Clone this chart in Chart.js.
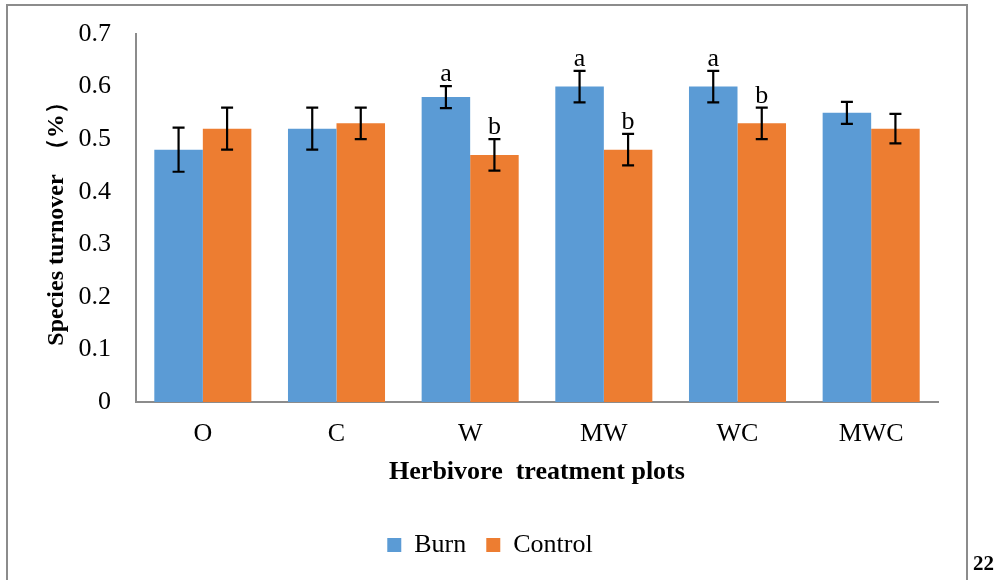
<!DOCTYPE html>
<html>
<head>
<meta charset="utf-8">
<title>Species turnover</title>
<script src="https://cdn.jsdelivr.net/npm/chart.js@4/dist/chart.umd.min.js"></script>
<style>
  html, body { margin: 0; padding: 0; background: #fff; }
  #wrap { width: 996px; height: 580px; }
</style>
</head>
<body>
<div id="wrap"><canvas id="myChart" width="996" height="580"></canvas></div>
<script>
// treatment plots and mean turnover per plot
var plots = ['O', 'C', 'W', 'MW', 'WC', 'MWC'];
var burn = [0.48, 0.52, 0.58, 0.60, 0.60, 0.55];
var control = [0.52, 0.53, 0.47, 0.48, 0.53, 0.52];
// standard errors
var burnErr = [0.042, 0.04, 0.021, 0.03, 0.03, 0.021];
var controlErr = [0.04, 0.03, 0.03, 0.03, 0.03, 0.028];
// significance letters
var burnLetters = ['', '', 'a', 'a', 'a', ''];
var controlLetters = ['', '', 'b', 'b', 'b', ''];
// y axis
var yTicks = [0, 0.1, 0.2, 0.3, 0.4, 0.5, 0.6, 0.7];
var yTickLabels = ['0', '0.1', '0.2', '0.3', '0.4', '0.5', '0.6', '0.7'];

var serif = '"Liberation Serif", "Times New Roman", serif';
var axisGray = '#8c8c8c';

var errors = [burnErr, controlErr];
var letters = [burnLetters, controlLetters];

// error bars + letters above them
var errorBars = {
  id: 'errorBars',
  afterDatasetsDraw: function (chart) {
    var ctx = chart.ctx;
    var y = chart.scales.y;
    ctx.save();
    chart.data.datasets.forEach(function (ds, i) {
      var meta = chart.getDatasetMeta(i);
      meta.data.forEach(function (bar, j) {
        var v = ds.data[j];
        var e = errors[i][j];
        var top = y.getPixelForValue(v + e);
        var bot = y.getPixelForValue(v - e);
        ctx.strokeStyle = '#000';
        ctx.lineWidth = 2.2;
        ctx.beginPath();
        ctx.moveTo(bar.x, top);
        ctx.lineTo(bar.x, bot);
        ctx.moveTo(bar.x - 6, top);
        ctx.lineTo(bar.x + 6, top);
        ctx.moveTo(bar.x - 6, bot);
        ctx.lineTo(bar.x + 6, bot);
        ctx.stroke();
        if (letters[i][j]) {
          ctx.fillStyle = '#000';
          ctx.font = '26px ' + serif;
          ctx.textAlign = 'center';
          ctx.textBaseline = 'alphabetic';
          ctx.fillText(letters[i][j], bar.x, top - 5);
        }
      });
    });
    ctx.restore();
  }
};

// legend sits a bit right of the plot centre
var legendShift = {
  id: 'legendShift',
  afterLayout: function (chart) {
    chart.legend.left += 21;
    chart.legend.right += 21;
  }
};

// page frame and page number
var pageFrame = {
  id: 'pageFrame',
  afterDraw: function (chart) {
    var ctx = chart.ctx;
    ctx.save();
    ctx.strokeStyle = axisGray;
    ctx.lineWidth = 2;
    ctx.beginPath();
    ctx.moveTo(7, 580);
    ctx.lineTo(7, 5);
    ctx.lineTo(967, 5);
    ctx.lineTo(967, 580);
    ctx.stroke();
    ctx.fillStyle = '#000';
    ctx.font = 'bold 21px ' + serif;
    ctx.textAlign = 'left';
    ctx.textBaseline = 'alphabetic';
    ctx.fillText('22', 973, 570);
    ctx.restore();
  }
};

var ctx = document.getElementById('myChart').getContext('2d');
var myChart = new Chart(ctx, {
  type: 'bar',
  data: {
    labels: plots,
    datasets: [{
      label: 'Burn',
      data: burn,
      backgroundColor: '#5b9bd5',
      categoryPercentage: 0.726,
      barPercentage: 1.0
    }, {
      label: 'Control',
      data: control,
      backgroundColor: '#ed7d31',
      categoryPercentage: 0.726,
      barPercentage: 1.0
    }]
  },
  options: {
    responsive: false,
    animation: false,
    devicePixelRatio: 1,
    layout: {
      padding: { left: 0, top: 34, right: 58, bottom: 12 }
    },
    plugins: {
      legend: {
        position: 'bottom',
        labels: {
          color: '#000',
          font: { family: serif, size: 26 },
          boxWidth: 14,
          boxHeight: 14,
          padding: 20
        }
      },
      tooltip: { enabled: false }
    },
    scales: {
      x: {
        grid: { display: false, drawTicks: false },
        border: { display: true, color: axisGray, width: 2 },
        ticks: {
          color: '#000',
          font: { family: serif, size: 26 },
          padding: 17
        },
        title: {
          display: true,
          text: 'Herbivore  treatment plots',
          color: '#000',
          font: { family: serif, size: 26, weight: 'bold' },
          padding: { top: 0, bottom: 24 }
        },
        afterFit: function (scale) { scale.height = 110; }
      },
      y: {
        min: 0,
        max: 0.7,
        // tick marks hidden, tickLength only spaces the labels off the axis
        grid: { display: false, drawTicks: true, tickLength: 25 },
        border: { display: true, color: axisGray, width: 2 },
        afterBuildTicks: function (scale) {
          scale.ticks = yTicks.map(function (v) { return { value: v }; });
        },
        ticks: {
          color: '#000',
          font: { family: serif, size: 26 },
          padding: 0,
          callback: function (value, index) { return yTickLabels[index]; }
        },
        title: {
          display: true,
          text: 'Species turnover  （%）',
          color: '#000',
          font: { family: serif, size: 24, weight: 'bold' },
          padding: { top: 42, bottom: 0 }
        },
        afterFit: function (scale) { scale.width = 136; }
      }
    }
  },
  plugins: [errorBars, legendShift, pageFrame]
});
</script>
</body>
</html>
